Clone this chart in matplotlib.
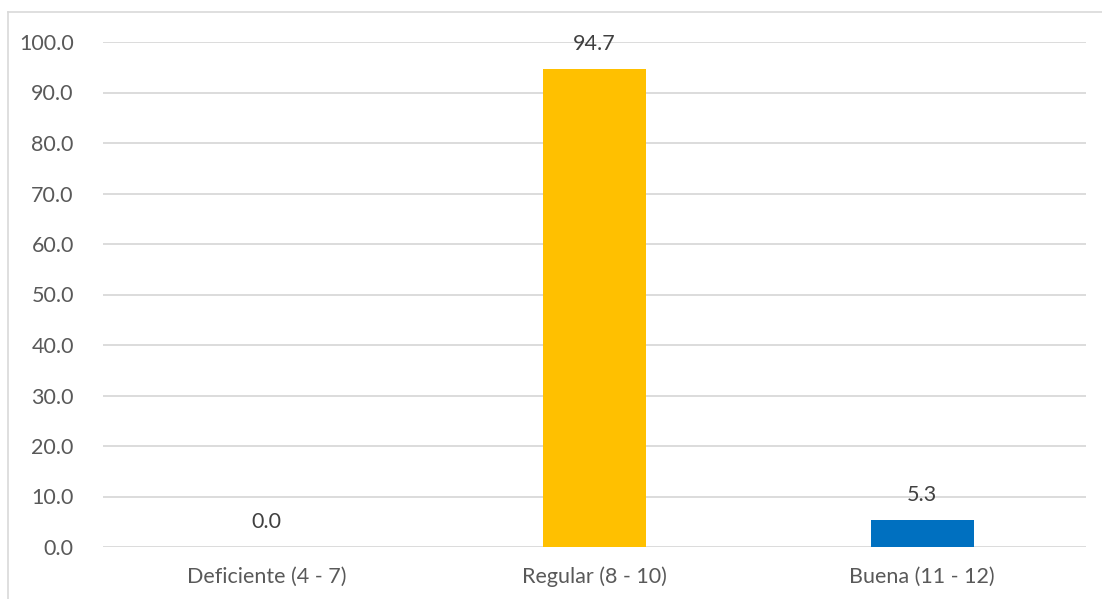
import matplotlib
matplotlib.use("Agg")
import matplotlib.pyplot as plt
from matplotlib.lines import Line2D

categories = ["Deficiente (4 - 7)", "Regular (8 - 10)", "Buena (11 - 12)"]
values = [0.0, 94.7, 5.3]
bar_colors = ["#5B9BD5", "#FFC000", "#0070C0"]
yticks = [0, 10, 20, 30, 40, 50, 60, 70, 80, 90, 100]

W, H = 1102, 599
fig = plt.figure(figsize=(W / 100, H / 100), dpi=100)
plt.rcParams['font.family'] = ['Lato', 'DejaVu Sans']

left, right, top, bottom = 103, 1086, 42, 547
ax = fig.add_axes([left / W, 1 - bottom / H, (right - left) / W, (bottom - top) / H])

x = list(range(len(categories)))
ax.bar(x, values, width=0.314, color=bar_colors, zorder=3)
ax.set_xlim(-0.5, 2.5)
ax.set_ylim(0, 100)
ax.set_yticks(yticks)
ax.set_yticklabels([f"{v:.1f}" for v in yticks])
ax.set_xticks(x)
ax.set_xticklabels(categories)
ax.grid(axis='y', color='#D9D9D9', linewidth=1.3, zorder=0)
for s in ax.spines.values():
    s.set_visible(False)
ax.tick_params(axis='both', length=0, labelsize=15.5, colors='#595959')
ax.tick_params(axis='y', pad=21)
ax.tick_params(axis='x', pad=14)

for xi, v in zip(x, values):
    ax.annotate(f"{v:.1f}", (xi, v), xytext=(0, 18), textcoords='offset points',
                ha='center', va='center', fontsize=15.5, color='#404040', zorder=4)

# outer frame (left and top edges visible)
fig.add_artist(Line2D([8 / W, 8 / W], [0, 1 - 12 / H], color='#D9D9D9', linewidth=1.2, transform=fig.transFigure))
fig.add_artist(Line2D([8 / W, 1], [1 - 12 / H, 1 - 12 / H], color='#D9D9D9', linewidth=1.2, transform=fig.transFigure))

fig.savefig("out.png", dpi=100)
